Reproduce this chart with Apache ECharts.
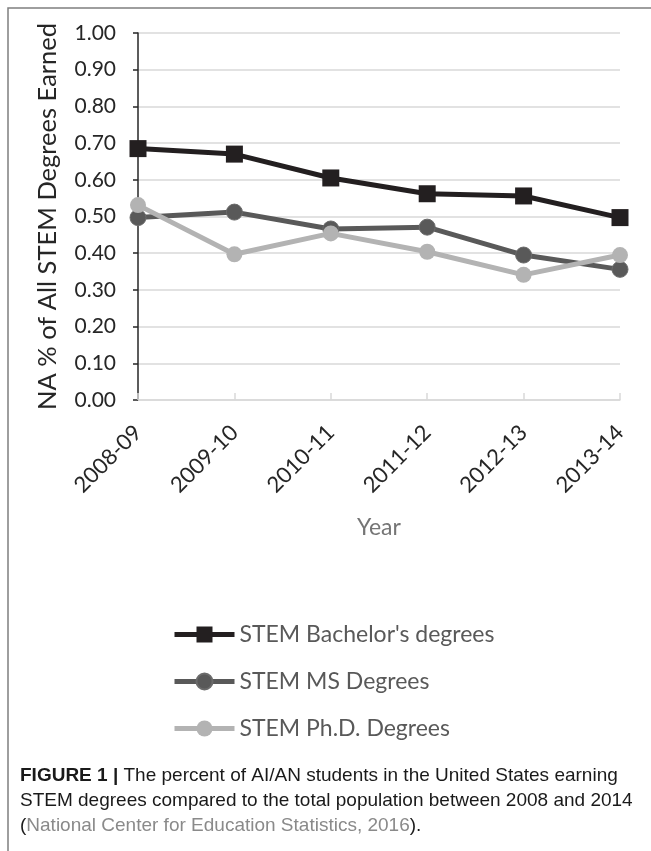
<!DOCTYPE html>
<html>
<head>
<meta charset="utf-8">
<script src="https://cdn.jsdelivr.net/npm/echarts@6/dist/echarts.min.js"></script>
<style>
html,body{margin:0;padding:0;background:#fff;}
#c{width:651px;height:851px;}
</style>
</head>
<body>
<div id="c"></div>
<script>
const categories = ['2008-09','2009-10','2010-11','2011-12','2012-13','2013-14'];
const bachelor = [0.685, 0.670, 0.605, 0.562, 0.556, 0.497];
const masters = [0.497, 0.512, 0.466, 0.471, 0.395, 0.356];
const phd = [0.531, 0.397, 0.454, 0.404, 0.341, 0.395];
const seriesNames = ["STEM Bachelor's degrees", 'STEM MS Degrees', 'STEM Ph.D. Degrees'];
const yTicks = [0, 0.1, 0.2, 0.3, 0.4, 0.5, 0.6, 0.7, 0.8, 0.9, 1.0];

const chart = echarts.init(document.getElementById('c'), null, {renderer: 'canvas'});
const axisFont = 'Lato, "Open Sans", sans-serif';
const capFont = '"Liberation Sans Narrow", "Liberation Sans", Arial, sans-serif';

chart.setOption({
  animation: false,
  backgroundColor: '#fff',
  grid: {left: 138, right: 31, top: 33, bottom: 451, containLabel: false},
  xAxis: {
    type: 'category',
    data: categories,
    boundaryGap: false,
    name: 'Year',
    nameLocation: 'middle',
    nameGap: 116,
    nameTextStyle: {fontFamily: axisFont, fontSize: 23, color: '#757575'},
    axisLine: {lineStyle: {color: '#d9d9d9', width: 1.5}},
    axisTick: {inside: true, length: 7, lineStyle: {color: '#d9d9d9', width: 1.5}},
    axisLabel: {rotate: 45, fontFamily: axisFont, fontSize: 22, color: '#262626', margin: 29},
    splitLine: {show: false}
  },
  yAxis: {
    type: 'value',
    min: yTicks[0],
    max: yTicks[yTicks.length - 1],
    interval: 0.1,
    name: 'NA % of All STEM Degrees Earned',
    nameLocation: 'middle',
    nameGap: 77,
    nameTextStyle: {fontFamily: axisFont, fontSize: 25.5, color: '#262626'},
    axisLine: {show: true, lineStyle: {color: '#262626', width: 1.5}},
    axisTick: {show: true, length: 5, lineStyle: {color: '#262626', width: 1.5}},
    axisLabel: {fontFamily: axisFont, fontSize: 21, color: '#262626', margin: 22,
      formatter: v => v.toFixed(2)},
    splitLine: {lineStyle: {color: '#d9d9d9', width: 1.5}}
  },
  legend: {
    orient: 'vertical',
    left: 172,
    top: 623,
    padding: 0,
    itemWidth: 60,
    itemHeight: 20,
    itemGap: 24,
    lineStyle: {width: 5},
    textStyle: {fontFamily: axisFont, fontSize: 23, lineHeight: 20, color: '#595959'},
    data: seriesNames
  },
  series: [
    {name: seriesNames[0], type: 'line', data: bachelor, symbol: 'rect', symbolSize: 17,
     lineStyle: {color: '#231f20', width: 5}, itemStyle: {color: '#231f20'}, z: 5},
    {name: seriesNames[1], type: 'line', data: masters, symbol: 'circle', symbolSize: 16,
     lineStyle: {color: '#595959', width: 5}, itemStyle: {color: '#595959', borderColor: '#6b6b6b', borderWidth: 1}, z: 3},
    {name: seriesNames[2], type: 'line', data: phd, symbol: 'circle', symbolSize: 16,
     lineStyle: {color: '#b3b3b3', width: 5}, itemStyle: {color: '#b3b3b3'}, z: 4}
  ],
  graphic: [
    {type: 'polyline', shape: {points: [[8, 851], [8, 8], [651, 8]]},
     style: {stroke: '#7f7f7f', lineWidth: 1.5, fill: null}, silent: true},
    {type: 'text', left: 20, top: 763,
     style: {
       text: '{b|FIGURE 1 |} The percent of AI/AN students in the United States earning\nSTEM degrees compared to the total population between 2008 and 2014\n({g|National Center for Education Statistics, 2016}).',
       font: '19px ' + capFont,
       fill: '#1a1a1a',
       lineHeight: 25,
       rich: {
         b: {fontFamily: capFont, fontSize: 19, fontWeight: 'bold', fill: '#1a1a1a'},
         g: {fontFamily: capFont, fontSize: 19, fill: '#8a8a8a'}
       }
     }}
  ]
});
</script>
</body>
</html>
